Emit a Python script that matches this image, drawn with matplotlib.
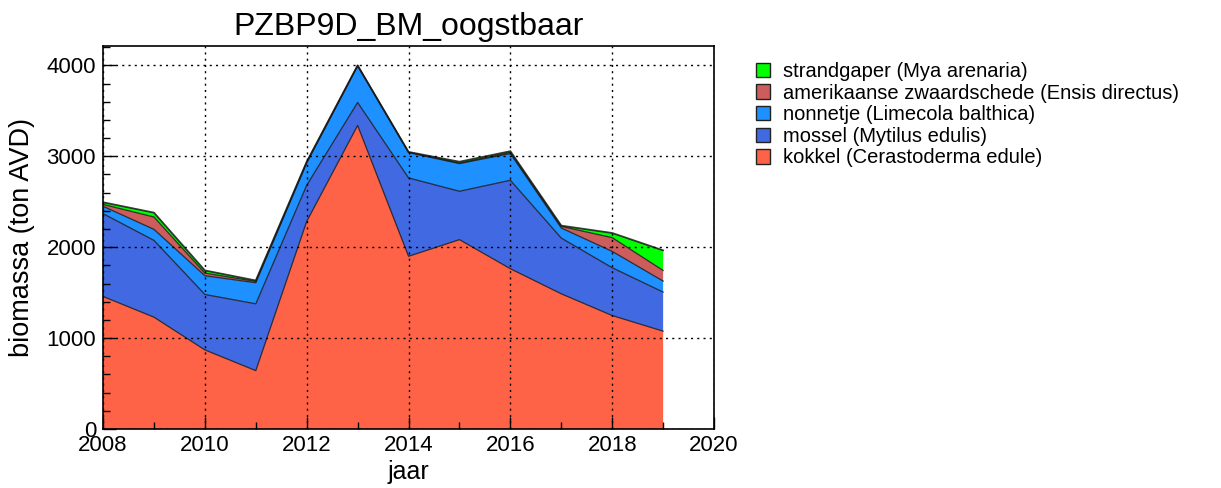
import matplotlib
matplotlib.use("Agg")
import matplotlib.pyplot as plt
from matplotlib.patches import Patch
from matplotlib.ticker import MultipleLocator
import numpy as np

plt.rcParams['font.family'] = ['Liberation Sans', 'DejaVu Sans']

years = [2008, 2009, 2010, 2011, 2012, 2013, 2014, 2015, 2016, 2017, 2018, 2019]
kokkel = [1458, 1230, 870, 642, 2284, 3339, 1900, 2083, 1763, 1487, 1248, 1076]
mossel = [911, 845, 610, 735, 397, 253, 862, 532, 973, 613, 526, 430]
nonnetje = [81, 121, 206, 232, 246, 403, 279, 305, 294, 111, 180, 121]
ensis = [21, 136, 29, 14, 8, 3, 4, 5, 13, 18, 151, 117]
mya = [23, 48, 29, 11, 5, 2, 3, 15, 13, 8, 51, 221]

labels = ["kokkel (Cerastoderma edule)", "mossel (Mytilus edulis)",
          "nonnetje (Limecola balthica)", "amerikaanse zwaardschede (Ensis directus)",
          "strandgaper (Mya arenaria)"]
colors = ["#FF6347", "#4169E1", "#1E90FF", "#CD5C5C", "#00FF00"]
series = [kokkel, mossel, nonnetje, ensis, mya]

fig = plt.figure(figsize=(12.21, 4.88), dpi=100)
ax = fig.add_axes([0.0844, 0.1209, 0.5004, 0.7848])

x = np.array(years)
base = np.zeros(len(years))
for s, c in zip(series, colors):
    top = base + np.array(s)
    ax.fill_between(x, base, top, facecolor=c, edgecolor='none', linewidth=0, zorder=1)
    base = top
base = np.zeros(len(years))
for i, s in enumerate(series):
    base = base + np.array(s)
    lw = 1.3 if i == len(series) - 1 else 0.9
    ax.plot(x, base, color='#1a1a1a', lw=lw, zorder=2, alpha=0.85)

ax.set_xlim(2008, 2020)
ax.set_ylim(0, 4213)
ax.xaxis.set_major_locator(MultipleLocator(2))
ax.xaxis.set_minor_locator(MultipleLocator(1))
ax.yaxis.set_major_locator(MultipleLocator(1000))
ax.yaxis.set_minor_locator(MultipleLocator(200))
ax.tick_params(which='both', direction='in', top=False, right=False, labelsize=16)
ax.tick_params(which='major', length=9, width=1)
ax.tick_params(which='minor', length=5, width=1)
ax.tick_params(axis='x', which='major', pad=4)
ax.tick_params(axis='y', which='major', pad=5)
ax.set_axisbelow(False)
ax.grid(True, which='major', color='black', linestyle=(0, (1.5, 3)), linewidth=1)
for sp in ax.spines.values():
    sp.set_linewidth(1.2)

ax.set_title("PZBP9D_BM_oogstbaar", fontsize=23, pad=8)
ax.set_xlabel("jaar", fontsize=18, labelpad=3)
ax.set_ylabel("biomassa (ton AVD)", fontsize=19.5, labelpad=8)

handles = [Patch(facecolor=c, edgecolor='#222222', linewidth=1) for c in colors]
fig.legend(handles[::-1], labels[::-1], loc='upper left', bbox_to_anchor=(0.619, 0.873),
           frameon=False, fontsize=14.5, handlelength=0.72, handleheight=0.72,
           handletextpad=0.65, labelspacing=0.13, borderpad=0, borderaxespad=0)

fig.savefig("out.png", dpi=100)
